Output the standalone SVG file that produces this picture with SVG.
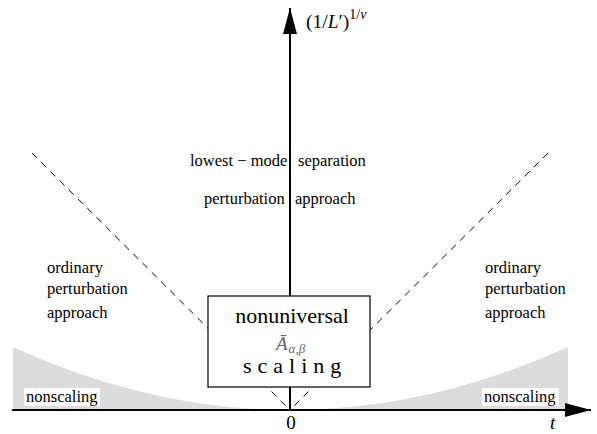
<svg xmlns="http://www.w3.org/2000/svg" width="597" height="434" viewBox="0 0 597 434" font-family="'Liberation Serif', 'DejaVu Serif', serif">
<style>
text{font-family:'Liberation Serif','DejaVu Serif',serif;fill:#000}
.t{font-size:16.5px}
.it{font-style:italic}
.dash{stroke:#000;stroke-width:1;stroke-dasharray:7,6;fill:none}
.axis{stroke:#000;stroke-width:2;fill:none}
.shade{fill:#dcdcdc;stroke:none}
.lbl{fill:#fff;stroke:none}
</style>
<defs>
<marker id="ah" viewBox="0 0 26 14" refX="26" refY="7" markerWidth="26" markerHeight="14" markerUnits="userSpaceOnUse" orient="auto">
<path d="M0,0 L26,7 L0,14 Z" fill="#000"/>
</marker>
</defs>
<g id="shading">
<path class="shade" d="M13,347 Q151,410 290,410 L13,410 Z"/>
<path class="shade" d="M568,347 Q429,410 290,410 L568,410 Z"/>
</g>
<g id="connectors">
<line class="dash" x1="32" y1="153" x2="290" y2="410"/>
<line class="dash" x1="548" y1="153" x2="290" y2="410"/>
<line class="axis" x1="12" y1="410" x2="591" y2="410" marker-end="url(#ah)"/>
<line class="axis" x1="290" y1="410" x2="290" y2="8" marker-end="url(#ah)"/>
</g>
<g id="nonscaling-left">
<rect class="lbl" x="24" y="388" width="76" height="18"/>
<text class="t" x="26" y="402">nonscaling</text>
</g>
<g id="nonscaling-right">
<rect class="lbl" x="482" y="388" width="77" height="18"/>
<text class="t" x="484" y="402">nonscaling</text>
</g>
<g id="box">
<rect x="208" y="296" width="162" height="91" fill="#fff" stroke="#000" stroke-width="1.2"/>
<text x="292" y="323" font-size="22" text-anchor="middle">nonuniversal</text>
<text x="276" y="350" font-size="19" style="fill:#666"><tspan font-style="italic">Ā</tspan><tspan font-size="13" font-style="italic" dx="1" dy="3">α,β</tspan></text>
<text x="243" y="373" font-size="22" letter-spacing="6">scaling</text>
</g>
<g id="ylabel">
<text x="306" y="28" font-size="19.5">(1/<tspan font-style="italic">L</tspan>′)<tspan font-size="14" dy="-9">1/<tspan font-style="italic">ν</tspan></tspan></text>
</g>
<g id="top-labels">
<text class="t" x="190" y="166">lowest − mode</text>
<text class="t" x="298" y="166">separation</text>
<text class="t" x="204" y="204">perturbation</text>
<text class="t" x="295" y="204">approach</text>
</g>
<g id="left-labels">
<text class="t" x="47" y="273">ordinary</text>
<text class="t" x="47" y="294">perturbation</text>
<text class="t" x="47" y="318">approach</text>
</g>
<g id="right-labels">
<text class="t" x="485" y="273">ordinary</text>
<text class="t" x="485" y="294">perturbation</text>
<text class="t" x="485" y="318">approach</text>
</g>
<g id="ticks">
<text x="291" y="429" font-size="19" text-anchor="middle">0</text>
<text x="550" y="429" font-size="19" class="it">t</text>
</g>
</svg>
